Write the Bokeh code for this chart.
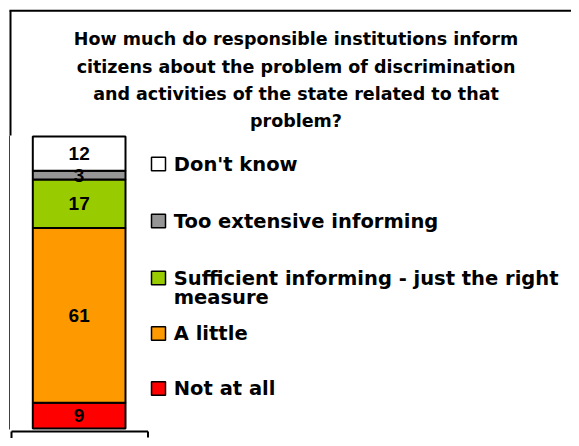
from bokeh.plotting import figure
from bokeh.models import Range1d, ColumnDataSource
from bokeh.embed import file_html
from bokeh.resources import INLINE
from bokeh.core.properties import value

# ---------------- data ----------------
title_lines = [
    "How much do responsible institutions inform",
    "citizens about the problem of discrimination",
    "and activities of the state related to that",
    "problem?",
]
categories = [
    "Not at all",
    "A little",
    "Sufficient informing - just the right\nmeasure",
    "Too extensive informing",
    "Don't know",
]
values = [9, 61, 17, 3, 12]
colors = ["#FF0000", "#FF9900", "#99CC00", "#969696", "#FFFFFF"]

# ---------------- layout ----------------
W, H = 571, 438


def px_x(img_x):
    return img_x


def px_y(img_y):
    return H - img_y


total = sum(values)
BAR_BOTTOM_IMG = 428.0
BAR_TOP_IMG = 136.0
scale = (BAR_BOTTOM_IMG - BAR_TOP_IMG) / total  # px per unit
base_px = px_y(BAR_BOTTOM_IMG)

p = figure(
    width=W, height=H,
    x_range=Range1d(0, W),
    y_range=Range1d(-base_px / scale, (H - base_px) / scale),
    x_axis_type=None, y_axis_type=None,
    toolbar_location=None, output_backend="svg",
    min_border=0, min_border_left=0, min_border_right=0,
    min_border_top=0, min_border_bottom=0,
)
p.extra_y_ranges = {"px": Range1d(0, H)}
p.outline_line_color = None
p.background_fill_color = "white"
p.border_fill_color = "white"

# ---------------- frame / chrome ----------------
p.segment(x0=[px_x(9), px_x(10)], y0=[px_y(10.3), px_y(10)],
          x1=[px_x(600), px_x(10)], y1=[px_y(10.3), px_y(135)],
          y_range_name="px", line_color="black", line_width=2)
p.segment(x0=[px_x(9)], y0=[px_y(135)], x1=[px_x(9)], y1=[px_y(429)],
          y_range_name="px", line_color="#404040", line_width=1)
p.segment(x0=[px_x(11), px_x(11), px_x(147.5)],
          y0=[px_y(431), px_y(431), px_y(431)],
          x1=[px_x(147.5), px_x(11), px_x(147.5)],
          y1=[px_y(431), px_y(460), px_y(437)],
          y_range_name="px", line_color="black", line_width=2)

# ---------------- title ----------------
TITLE_X = px_x(295.5)
title_centers = [38.8, 66.0, 93.2, 120.4]
p.text(x=[TITLE_X] * len(title_lines), y=[px_y(b) for b in title_centers],
       text=title_lines, y_range_name="px",
       text_align="center", text_baseline="middle",
       text_font=value("DejaVu Sans"), text_font_style="bold",
       text_font_size="17.5px", text_color="black")

# ---------------- stacked bar ----------------
bottoms, tops, mids = [], [], []
acc = 0
for v in values:
    bottoms.append(acc)
    tops.append(acc + v)
    mids.append(acc + v / 2)
    acc += v
src = ColumnDataSource(dict(cat=categories, val=values, bottom=bottoms, top=tops,
                            mid=mids, color=colors, label=[str(v) for v in values]))
BAR_X = px_x(78.65)
BAR_W = 92.7
p.vbar(x=BAR_X, width=BAR_W, bottom="bottom", top="top", fill_color="color",
       line_color="black", line_width=2, source=src)
p.text(x=BAR_X, y="mid", text="label", source=src,
       text_align="center", text_baseline="middle",
       text_font=value("Liberation Sans"), text_font_style="bold",
       text_font_size="19px", text_color="black")

# ---------------- legend (top to bottom) ----------------
row_centers = [163.5, 220.5, 277.5, 333.0, 388.0]
leg_labels = list(reversed(categories))
leg_colors = list(reversed(colors))
SQ_X = px_x(158)
TXT_X = px_x(173.3)
p.rect(x=[SQ_X] * len(leg_labels), y=[px_y(c) for c in row_centers],
       width=14, height=13.5, y_range_name="px",
       fill_color=leg_colors, line_color="black", line_width=1.5)
tx, ty, tt = [], [], []
for lab, c in zip(leg_labels, row_centers):
    for i, line in enumerate(lab.split("\n")):
        tx.append(TXT_X)
        ty.append(px_y(c + i * 19.5))
        tt.append(line)
p.text(x=tx, y=ty, text=tt, y_range_name="px",
       text_align="left", text_baseline="middle",
       text_font=value("DejaVu Sans"), text_font_style="bold",
       text_font_size="19.5px", text_color="black")

open("out.html", "w").write(file_html(p, INLINE))
